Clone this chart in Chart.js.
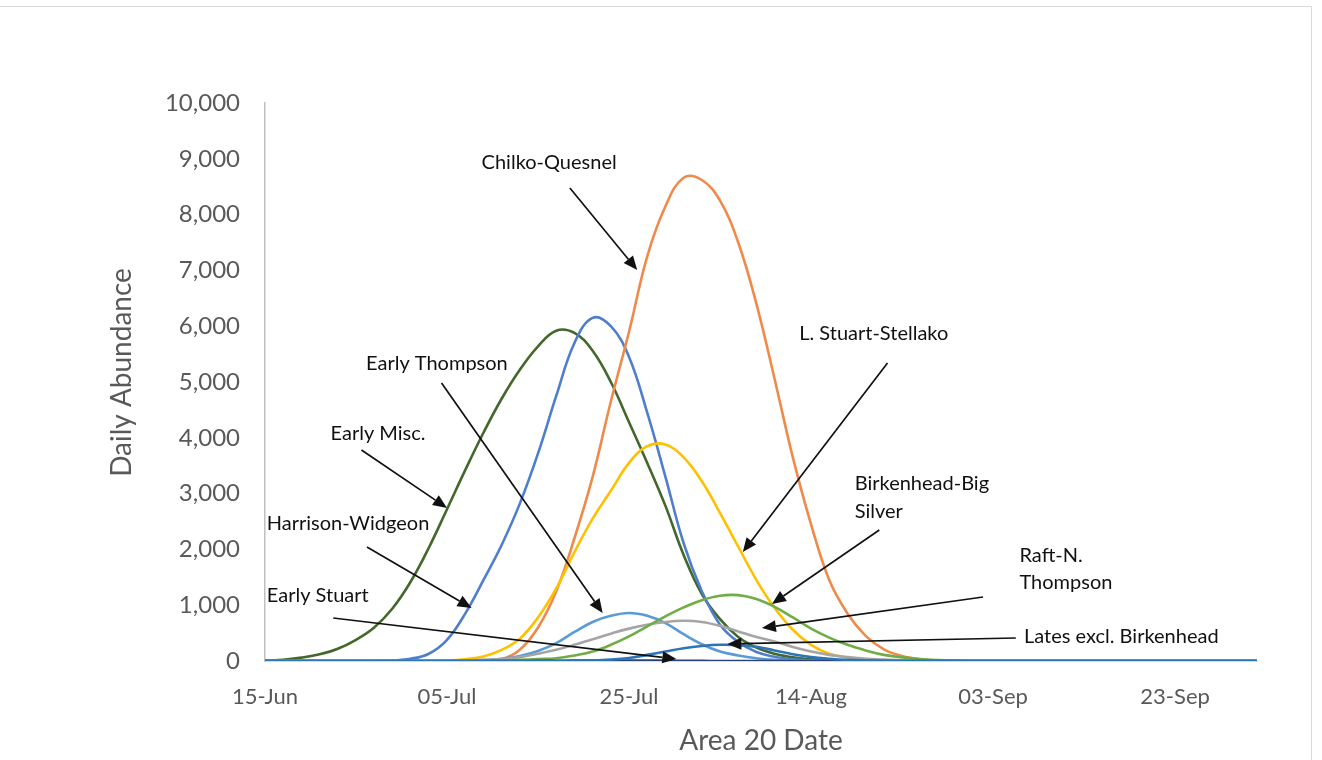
<!DOCTYPE html>
<html lang="en">
<head>
  <meta charset="UTF-8">
  <title>Daily Abundance by Area 20 Date</title>
  <style>
    body {
      margin: 0;
      background: #fff;
      overflow: hidden;
    }
    #wrap {
      position: relative;
      width: 1322px;
      height: 760px;
    }
    #frame {
      position: absolute;
      left: -1px;
      top: 6px;
      width: 1311px;
      height: 800px;
      border: 1px solid #d9d9d9;
      pointer-events: none;
    }
  </style>
</head>
<body>

<div id="wrap">
  <canvas id="runChart" width="1322" height="760"></canvas>
  <div id="frame"></div>
</div>

<script src="https://cdn.jsdelivr.net/npm/chart.js"></script>
<script>
  // day offsets from 15-Jun (every 2 days, last point = right edge of axis)
  const days = [0, 2, 4, 6, 8, 10, 12, 14, 16, 18, 20, 22, 24, 26, 28, 30, 32, 34, 36, 38,
                40, 42, 44, 46, 48, 50, 52, 54, 56, 58, 60, 62, 64, 66, 68, 70, 72, 74, 76, 78,
                80, 82, 84, 86, 88, 90, 92, 94, 96, 98, 100, 102, 104, 106, 108, 109];

  const earlyMisc = [5, 20, 60, 120, 220, 380, 600, 940, 1420, 2030, 2720, 3420, 4090, 4700, 5220, 5640, 5920, 5880, 5560, 5000,
                     4280, 3550, 2780, 1900, 1200, 750, 430, 240, 130, 65, 30, 12, 5, 0, 0, 0, 0, 0, 0, 0,
                     0, 0, 0, 0, 0, 0, 0, 0, 0, 0, 0, 0, 0, 0, 0, 0];
  const harrisonWidgeon = [0, 0, 0, 0, 0, 0, 0, 10, 40, 130, 380, 850, 1450, 2080, 2820, 3720, 4750, 5700, 6150, 6000,
                           5450, 4450, 3300, 2110, 1250, 650, 340, 160, 75, 30, 10, 0, 0, 0, 0, 0, 0, 0, 0, 0,
                           0, 0, 0, 0, 0, 0, 0, 0, 0, 0, 0, 0, 0, 0, 0, 0];
  const chilkoQuesnel = [0, 0, 0, 0, 0, 0, 0, 0, 0, 0, 0, 0, 5, 30, 200, 600, 1250, 2200, 3300, 4650,
                         5900, 7250, 8150, 8660, 8620, 8250, 7500, 6400, 5050, 3650, 2450, 1450, 850, 450, 210, 90, 30, 10, 0, 0,
                         0, 0, 0, 0, 0, 0, 0, 0, 0, 0, 0, 0, 0, 0, 0, 0];
  const lStuartStellako = [0, 0, 0, 0, 0, 0, 0, 0, 0, 0, 5, 30, 80, 200, 400, 780, 1300, 1950, 2550, 3050,
                           3550, 3850, 3880, 3650, 3220, 2650, 2050, 1450, 950, 560, 290, 130, 60, 25, 10, 0, 0, 0, 0, 0,
                           0, 0, 0, 0, 0, 0, 0, 0, 0, 0, 0, 0, 0, 0, 0, 0];
  const earlyThompson = [0, 0, 0, 0, 0, 0, 0, 0, 0, 0, 0, 5, 15, 40, 90, 180, 320, 520, 700, 810,
                         860, 810, 680, 480, 300, 170, 100, 50, 20, 8, 3, 0, 0, 0, 0, 0, 0, 0, 0, 0,
                         0, 0, 0, 0, 0, 0, 0, 0, 0, 0, 0, 0, 0, 0, 0, 0];
  const raftNThompson = [0, 0, 0, 0, 0, 0, 0, 0, 0, 0, 5, 10, 20, 35, 70, 130, 200, 290, 390, 490,
                         580, 650, 700, 720, 700, 630, 530, 430, 350, 250, 170, 110, 70, 40, 25, 12, 5, 0, 0, 0,
                         0, 0, 0, 0, 0, 0, 0, 0, 0, 0, 0, 0, 0, 0, 0, 0];
  const birkenheadBigSilver = [0, 0, 0, 0, 0, 0, 0, 0, 0, 0, 0, 0, 5, 10, 20, 35, 50, 100, 170, 290,
                               440, 620, 800, 960, 1090, 1170, 1180, 1110, 970, 780, 580, 420, 290, 190, 110, 65, 35, 15, 5, 0,
                               0, 0, 0, 0, 0, 0, 0, 0, 0, 0, 0, 0, 0, 0, 0, 0];
  const earlyStuart = [0, 0, 0, 0, 0, 0, 0, 0, 0, 0, 0, 0, 0, 0, 0, 2, 4, 6, 8, 10,
                       10, 8, 6, 4, 2, 0, 0, 0, 0, 0, 0, 0, 0, 0, 0, 0, 0, 0, 0, 0,
                       0, 0, 0, 0, 0, 0, 0, 0, 0, 0, 0, 0, 0, 0, 0, 0];
  const latesExclBirkenhead = [0, 0, 0, 0, 0, 0, 0, 0, 0, 0, 0, 0, 0, 0, 0, 0, 0, 5, 10, 25,
                               55, 110, 170, 230, 270, 290, 285, 255, 190, 120, 70, 40, 20, 10, 5, 0, 0, 0, 0, 0,
                               0, 0, 0, 0, 0, 0, 0, 0, 0, 0, 0, 0, 0, 0, 0, 0];

  const yTicks = [0, 1000, 2000, 3000, 4000, 5000, 6000, 7000, 8000, 9000, 10000];
  const months = ['Jan', 'Feb', 'Mar', 'Apr', 'May', 'Jun', 'Jul', 'Aug', 'Sep', 'Oct', 'Nov', 'Dec'];

  // callout text: [text, day, value]  and arrows: [fromDay, fromValue, toDay, toValue]
  const calloutLabels = [
    ['Chilko-Quesnel', 23.8, 8925],
    ['L. Stuart-Stellako', 58.7, 5860],
    ['Early Thompson', 11.1, 5323],
    ['Early Misc.', 7.2, 4068],
    ['Birkenhead-Big', 64.8, 3172],
    ['Silver', 64.8, 2670],
    ['Harrison-Widgeon', 0.2, 2455],
    ['Raft-N.', 82.9, 1882],
    ['Thompson', 82.9, 1398],
    ['Early Stuart', 0.2, 1165],
    ['Lates excl. Birkenhead', 83.4, 430]
  ];
  const calloutArrows = [
    [33.5, 8477, 40.9, 7007],
    [68.4, 5341, 52.5, 1953],
    [19.4, 4982, 37.1, 860],
    [10.6, 3781, 20.0, 2742],
    [67.5, 2348, 55.7, 1022],
    [11.2, 2043, 22.7, 950],
    [78.9, 1147, 54.6, 591],
    [7.5, 771, 45.2, 36],
    [82.5, 412, 50.8, 305]
  ];

  function dayLabel(d) {
    const dt = new Date(2020, 5, 15 + d);
    return String(dt.getDate()).padStart(2, '0') + '-' + months[dt.getMonth()];
  }

  function series(label, values, color) {
    return {
      label: label,
      data: days.map((d, i) => ({ x: d, y: values[i] })),
      borderColor: color,
      backgroundColor: color,
      borderWidth: 2.6,
      pointRadius: 0,
      fill: false,
      tension: 0.4
    };
  }

  // y title drawn by hand so it can sit a little above the plot's middle, as in the original
  const callouts = {
    id: 'callouts',
    afterDatasetsDraw(chart) {
      const { ctx, scales: { x, y } } = chart;
      ctx.save();
      ctx.fillStyle = '#595959';
      ctx.font = '28px Lato';
      ctx.textAlign = 'center';
      ctx.textBaseline = 'middle';
      ctx.translate(122, y.getPixelForValue(5170));
      ctx.rotate(-Math.PI / 2);
      ctx.fillText('Daily Abundance', 0, 0);
      ctx.restore();

      ctx.save();
      ctx.fillStyle = '#111';
      ctx.strokeStyle = '#111';
      ctx.lineWidth = 1.7;
      ctx.font = '20px Lato';
      ctx.textBaseline = 'middle';
      ctx.textAlign = 'left';
      calloutLabels.forEach(([text, d, v]) => {
        ctx.fillText(text, x.getPixelForValue(d), y.getPixelForValue(v));
      });
      calloutArrows.forEach(([d0, v0, d1, v1]) => {
        const x0 = x.getPixelForValue(d0), y0 = y.getPixelForValue(v0);
        const x1 = x.getPixelForValue(d1), y1 = y.getPixelForValue(v1);
        const ang = Math.atan2(y1 - y0, x1 - x0);
        const len = 14, half = 6;
        const bx = x1 - len * Math.cos(ang), by = y1 - len * Math.sin(ang);
        ctx.beginPath();
        ctx.moveTo(x0, y0);
        ctx.lineTo(bx, by);
        ctx.stroke();
        ctx.beginPath();
        ctx.moveTo(x1, y1);
        ctx.lineTo(bx + half * Math.sin(ang), by - half * Math.cos(ang));
        ctx.lineTo(bx - half * Math.sin(ang), by + half * Math.cos(ang));
        ctx.closePath();
        ctx.fill();
      });
      ctx.restore();
    }
  };

  const ctx = document.getElementById('runChart').getContext('2d');

  new Chart(ctx, {
    type: 'line',
    data: {
      datasets: [
        series('Lates excl. Birkenhead', latesExclBirkenhead, '#2E75B6'),
        series('Early Stuart', earlyStuart, '#264478'),
        series('Birkenhead-Big Silver', birkenheadBigSilver, '#70AD47'),
        series('Raft-N. Thompson', raftNThompson, '#A5A5A5'),
        series('Early Thompson', earlyThompson, '#5B9BD5'),
        series('L. Stuart-Stellako', lStuartStellako, '#FFC000'),
        series('Chilko-Quesnel', chilkoQuesnel, '#F08A4B'),
        series('Harrison-Widgeon', harrisonWidgeon, '#4F7FCC'),
        series('Early Misc.', earlyMisc, '#43682B')
      ]
    },
    options: {
      responsive: false,
      animation: false,
      layout: {
        padding: { top: 103, right: 65, left: 0, bottom: 0 }
      },
      plugins: {
        legend: { display: false },
        tooltip: { enabled: false }
      },
      scales: {
        x: {
          type: 'linear',
          min: 0,
          max: 109,
          grid: { display: false, drawTicks: false },
          border: { color: '#d9d9d9', width: 1 },
          afterBuildTicks: function(scale) {
            scale.ticks = scale.ticks.filter(t => t.value % 20 === 0);
          },
          afterFit: function(scale) {
            scale.height = 99;
          },
          ticks: {
            stepSize: 20,
            padding: 23,
            maxRotation: 0,
            autoSkip: false,
            color: '#595959',
            font: { family: 'Lato', size: 22 },
            callback: function(value) {
              return dayLabel(value);
            }
          },
          title: {
            display: true,
            text: 'Area 20 Date',
            color: '#595959',
            font: { family: 'Lato', size: 28 },
            padding: { top: 0, bottom: 2 }
          }
        },
        y: {
          min: 0,
          max: 10000,
          grid: { display: false, drawTicks: false },
          border: { color: '#bfbfbf', width: 1.5 },
          afterBuildTicks: function(scale) {
            scale.ticks = yTicks.map(v => ({ value: v }));
          },
          afterFit: function(scale) {
            scale.width = 265;
          },
          ticks: {
            padding: 25,
            color: '#595959',
            font: { family: 'Lato', size: 24 },
            callback: function(value) {
              return value.toLocaleString('en-US');
            }
          }
        }
      }
    },
    plugins: [callouts]
  });
</script>

</body>
</html>
